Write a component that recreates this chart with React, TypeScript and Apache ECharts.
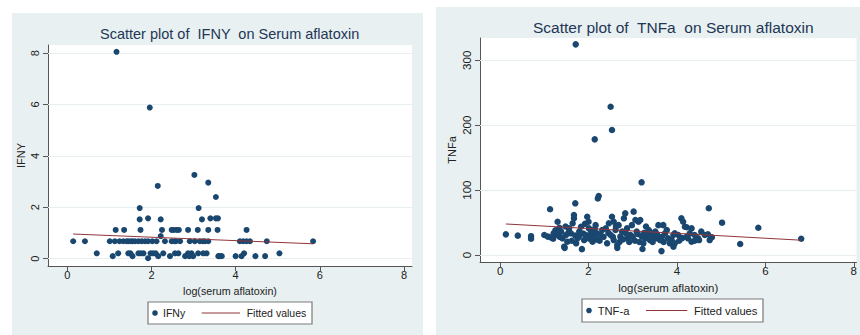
import React, { useEffect, useRef } from "react";
import * as echarts from "echarts";

// ---- Data ----
const xTicks = [0, 2, 4, 6, 8];
const ifnyTicks = [0, 2, 4, 6, 8];
const tnfaTicks = [0, 100, 200, 300];

// IFNy vs log(serum aflatoxin)
const ifnyPoints: number[][] = [
  [1.17, 8.05], [1.96, 5.88], [3.02, 3.26], [3.35, 2.96], [2.15, 2.83], [3.53, 2.4],
  [1.72, 1.97], [3.12, 1.97],
  [1.72, 1.53], [1.92, 1.57], [2.22, 1.53], [3.2, 1.53], [3.4, 1.57], [3.53, 1.57], [3.58, 1.57],
  [1.15, 1.12], [1.35, 1.12], [1.74, 1.12], [2.25, 1.12], [2.48, 1.12], [2.53, 1.12], [2.6, 1.12],
  [2.65, 1.12], [2.87, 1.12], [3.1, 1.12], [3.35, 1.12], [3.57, 1.12], [4.26, 1.12],
  [2.22, 0.88],
  [0.14, 0.68], [0.42, 0.68], [1.01, 0.68], [1.13, 0.68], [1.24, 0.68], [1.33, 0.68], [1.41, 0.68],
  [1.45, 0.68], [1.51, 0.68], [1.55, 0.68], [1.61, 0.68], [1.69, 0.68], [1.77, 0.68], [1.85, 0.68],
  [1.92, 0.68], [2.02, 0.68], [2.12, 0.68], [2.32, 0.68], [2.48, 0.68], [2.55, 0.68], [2.58, 0.68],
  [2.68, 0.68], [2.91, 0.68], [3.03, 0.68], [3.15, 0.68], [3.22, 0.68], [3.27, 0.68], [3.35, 0.68],
  [4.1, 0.68], [4.18, 0.68], [4.26, 0.68], [4.34, 0.68], [4.74, 0.68], [5.84, 0.68],
  [0.7, 0.21], [1.08, 0.1], [1.21, 0.21], [1.45, 0.21], [1.5, 0.21], [1.55, 0.1], [1.69, 0.21],
  [1.75, 0.21], [1.81, 0.21], [1.92, 0.02], [1.98, 0.21], [2.04, 0.21], [2.1, 0.21], [2.16, 0.1],
  [2.28, 0.21], [2.44, 0.1], [2.56, 0.21], [2.64, 0.21], [2.8, 0.1], [2.87, 0.21], [2.9, 0.1],
  [2.95, 0.21], [2.99, 0.1], [3.11, 0.21], [3.23, 0.21], [3.31, 0.21], [3.59, 0.1], [3.62, 0.1],
  [3.67, 0.1], [4.0, 0.1], [4.14, 0.1], [4.2, 0.21], [4.47, 0.1], [4.7, 0.1], [5.04, 0.21],
];
const ifnyFit: number[][] = [[0.14, 0.96], [5.84, 0.58]];

// TNF-a vs log(serum aflatoxin)
const tnfaPoints: number[][] = [
  [1.71, 324.6], [2.5, 228.5], [2.53, 192.6], [2.14, 178.2], [3.2, 112], [2.23, 91], [2.21, 87],
  [1.7, 79.6], [1.13, 70.4], [4.72, 72], [5.02, 49.8], [5.84, 42], [6.81, 25], [5.43, 17],
  [0.13, 31.8], [0.4, 29.8], [0.7, 29], [0.7, 25], [3.65, 6], [1.85, 9], [1.46, 11], [2.65, 11],
  [1.0, 30.8], [1.08, 28.3], [1.15, 27], [1.2, 25], [1.21, 33.4], [1.25, 38], [1.3, 51.3], [1.3, 30.8],
  [1.34, 42], [1.35, 28], [1.38, 36], [1.41, 25.7], [1.45, 12.8], [1.48, 44], [1.49, 30.8],
  [1.52, 20.5], [1.55, 35], [1.56, 41], [1.6, 33.4], [1.62, 22], [1.64, 48.8], [1.67, 61.6],
  [1.67, 56.5], [1.7, 30], [1.72, 18], [1.75, 25.7], [1.78, 28], [1.79, 36], [1.83, 43.6],
  [1.88, 33], [1.9, 23], [1.92, 48], [1.94, 30.8], [1.97, 59], [2.0, 51.3], [2.01, 41],
  [2.02, 25], [2.05, 30.8], [2.06, 36], [2.09, 20.5], [2.1, 28], [2.12, 36], [2.14, 40],
  [2.16, 46], [2.18, 24], [2.2, 33], [2.25, 22], [2.27, 30.8], [2.31, 38.5], [2.34, 28],
  [2.39, 41], [2.42, 18], [2.45, 34], [2.46, 48.8], [2.5, 30.8], [2.53, 59], [2.55, 28],
  [2.57, 51.3], [2.57, 23], [2.61, 38.5], [2.62, 44], [2.65, 15.4], [2.68, 46], [2.7, 20],
  [2.72, 28.3], [2.76, 36], [2.78, 24], [2.8, 56.5], [2.83, 64.2], [2.85, 33], [2.87, 41],
  [2.89, 25.7], [2.92, 20], [2.95, 30.8], [2.98, 46], [3.0, 28], [3.02, 66.8], [3.05, 22],
  [3.06, 54], [3.09, 36], [3.12, 32], [3.13, 51.3], [3.15, 20], [3.17, 54], [3.21, 28.3],
  [3.22, 9.2], [3.24, 18], [3.26, 34], [3.28, 25.7], [3.3, 44], [3.32, 30.8], [3.36, 38.5],
  [3.39, 23], [3.4, 35], [3.43, 30.8], [3.45, 20], [3.47, 28.3], [3.51, 36], [3.54, 25.7],
  [3.55, 32], [3.58, 46], [3.62, 23], [3.66, 28], [3.69, 46], [3.7, 20], [3.73, 33.4],
  [3.77, 38.5], [3.8, 25.7], [3.84, 18], [3.88, 23], [3.92, 30.8], [3.92, 12.8], [3.95, 33.4],
  [3.95, 18], [4.03, 30.8], [4.05, 22], [4.1, 56.5], [4.12, 26], [4.14, 51.3], [4.18, 43.6],
  [4.22, 42.7], [4.22, 28.3], [4.25, 25.7], [4.29, 33.4], [4.33, 41], [4.33, 20.5], [4.4, 30.8],
  [4.4, 22], [4.48, 25.7], [4.5, 23], [4.55, 36], [4.63, 30.8], [4.7, 32], [4.74, 23], [4.79, 27.3],
];
const tnfaFit: number[][] = [[0.13, 47.8], [6.81, 22.8]];

// ---- Styling ----
const NAVY = "#1a476f";
const MAROON = "#90353b";
const PANEL = "#e8f0f1";
const GRIDLINE = "#e6eef0";
const AXIS = "#555555";
const TEXT = "#222222";
const TITLE = "#233656";
const FONT = "'Liberation Sans', Arial, sans-serif";

function axisX(gridIndex: number, min: number, max: number, fs: number, nameFs: number, nameGap: number) {
  return {
    gridIndex,
    type: "value",
    min,
    max,
    name: "log(serum aflatoxin)",
    nameLocation: "middle",
    nameGap,
    nameTextStyle: { fontSize: nameFs, color: TEXT, fontFamily: FONT },
    axisLine: { show: true, onZero: false, lineStyle: { color: AXIS, width: 1 } },
    axisTick: { show: true, customValues: xTicks, length: 5, lineStyle: { color: AXIS } },
    axisLabel: { customValues: xTicks, fontSize: fs, color: TEXT, margin: 3, fontFamily: FONT },
    splitLine: { show: false },
  };
}

function axisY(gridIndex: number, min: number, max: number, ticks: number[], name: string, fs: number, nameGap: number, margin: number) {
  return {
    gridIndex,
    type: "value",
    min,
    max,
    name,
    nameLocation: "middle",
    nameGap,
    nameRotate: 90,
    nameTextStyle: { fontSize: 11, color: TEXT, fontFamily: FONT },
    axisLine: { show: true, onZero: false, lineStyle: { color: AXIS, width: 1 } },
    axisTick: { show: true, customValues: ticks, length: 5, lineStyle: { color: AXIS } },
    axisLabel: { customValues: ticks, rotate: 90, fontSize: fs, color: TEXT, margin, fontFamily: FONT },
    splitLine: { show: false },
  };
}

function legendBox(x: number, y: number, w: number, h: number, label: string, dotX: number, textX: number, lineX1: number, lineX2: number, fitX: number, fs: number) {
  const cy = y + h / 2;
  return {
    type: "group",
    z: 10,
    children: [
      { type: "rect", shape: { x, y, width: w, height: h }, style: { fill: "#ffffff", stroke: "#7a7a7a", lineWidth: 1.2 } },
      { type: "circle", shape: { cx: dotX, cy, r: 2.8 }, style: { fill: NAVY } },
      { type: "text", x: textX, y: cy, style: { text: label, fontSize: fs, fill: TEXT, verticalAlign: "middle", fontFamily: FONT } },
      { type: "line", shape: { x1: lineX1, y1: cy, x2: lineX2, y2: cy }, style: { stroke: MAROON, lineWidth: 1 } },
      { type: "text", x: fitX, y: cy, style: { text: "Fitted values", fontSize: fs, fill: TEXT, verticalAlign: "middle", fontFamily: FONT } },
    ],
  };
}

export default function App() {
  const ref = useRef<HTMLDivElement>(null);

  useEffect(() => {
    document.body.style.margin = "0";
    if (!ref.current) return;
    const chart = echarts.init(ref.current, null, { renderer: "svg" });

    const option: any = {
      animation: false,
      backgroundColor: "#ffffff",
      textStyle: { fontFamily: FONT },
      title: [
        {
          text: "Scatter plot of  IFNY  on Serum aflatoxin",
          left: 100,
          top: 26,
          padding: 0,
          textStyle: { fontSize: 14.5, fontWeight: "normal", color: TITLE, fontFamily: FONT },
        },
        {
          text: "Scatter plot of  TNFa  on Serum aflatoxin",
          left: 533,
          top: 19,
          padding: 0,
          textStyle: { fontSize: 15.5, fontWeight: "normal", color: TITLE, fontFamily: FONT },
        },
      ],
      graphic: [
        { type: "rect", z: -10, shape: { x: 12, y: 13, width: 411, height: 322 }, style: { fill: PANEL } },
        { type: "rect", z: -10, shape: { x: 436, y: 7, width: 424, height: 328 }, style: { fill: PANEL } },
        legendBox(148, 302, 164, 22, "IFNy", 155, 163, 201.7, 240, 246.7, 10.5),
        legendBox(582, 299, 181, 23, "TNF-a", 589, 597.7, 646, 687.3, 694, 11.2),
      ],
      grid: [
        { left: 48, top: 45, width: 364, height: 221, show: true, backgroundColor: "#ffffff", borderWidth: 0 },
        { left: 480, top: 38, width: 380, height: 224, show: true, backgroundColor: "#ffffff", borderWidth: 0 },
      ],
      xAxis: [
        axisX(0, -0.458, 8.19, 11, 10.7, 19),
        axisX(1, -0.455, 8.06, 11.5, 11.4, 20),
      ],
      yAxis: [
        axisY(0, -0.284, 8.315, ifnyTicks, "IFNY", 11, 22, 8),
        axisY(1, -10.8, 334.4, tnfaTicks, "TNFa", 11.5, 23, 7),
      ],
      series: [
        {
          name: "IFNy",
          type: "scatter",
          xAxisIndex: 0,
          yAxisIndex: 0,
          data: ifnyPoints,
          symbolSize: 6,
          itemStyle: { color: NAVY, opacity: 1 },
          z: 3,
        },
        {
          name: "Fitted values",
          type: "line",
          xAxisIndex: 0,
          yAxisIndex: 0,
          data: ifnyFit,
          symbol: "none",
          lineStyle: { color: MAROON, width: 1 },
          z: 4,
          markLine: {
            silent: true,
            symbol: "none",
            z: 1,
            label: { show: false },
            emphasis: { disabled: true },
            lineStyle: { color: GRIDLINE, width: 1, type: "solid" },
            data: ifnyTicks.map((v) => ({ yAxis: v })),
          },
        },
        {
          name: "TNF-a",
          type: "scatter",
          xAxisIndex: 1,
          yAxisIndex: 1,
          data: tnfaPoints,
          symbolSize: 6.5,
          itemStyle: { color: NAVY, opacity: 1 },
          z: 3,
        },
        {
          name: "Fitted values",
          type: "line",
          xAxisIndex: 1,
          yAxisIndex: 1,
          data: tnfaFit,
          symbol: "none",
          lineStyle: { color: MAROON, width: 1 },
          z: 4,
          markLine: {
            silent: true,
            symbol: "none",
            z: 1,
            label: { show: false },
            emphasis: { disabled: true },
            lineStyle: { color: GRIDLINE, width: 1, type: "solid" },
            data: tnfaTicks.map((v) => ({ yAxis: v })),
          },
        },
      ],
    };

    chart.setOption(option);
    return () => {
      chart.dispose();
    };
  }, []);

  return (
    <div
      ref={ref}
      style={{ position: "absolute", left: 0, top: 0, width: 860, height: 335 }}
    />
  );
}
